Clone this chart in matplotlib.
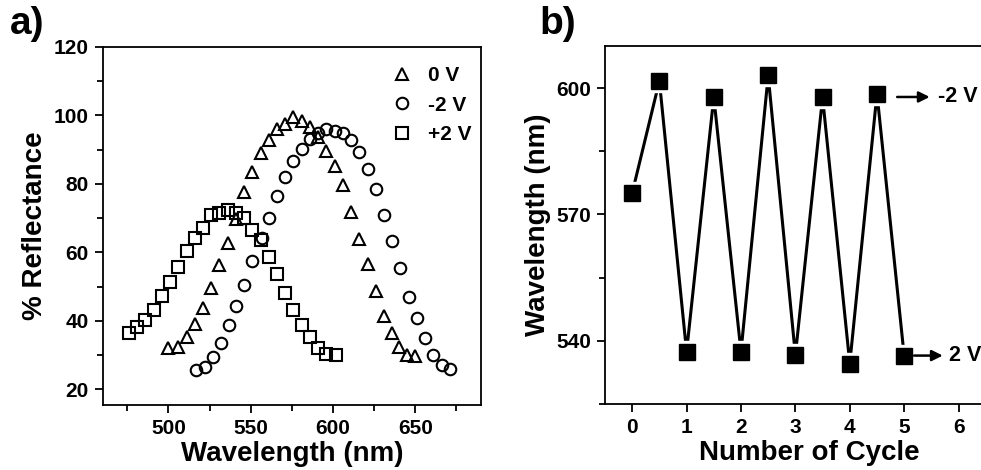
import numpy as np
import matplotlib
matplotlib.use("Agg")
import matplotlib.pyplot as plt
from matplotlib.ticker import MultipleLocator, FixedLocator

plt.rcParams['font.family'] = ['Liberation Sans', 'DejaVu Sans']
plt.rcParams['font.weight'] = 'bold'

# panel a: reflectance spectra
wl_0v = [500, 506, 511, 516, 521, 526, 531, 536, 541, 546, 551, 556, 561, 566, 571, 576,
         581, 586, 591, 596, 601, 606, 611, 616, 621, 626, 631, 636, 640, 645, 650]
r_0v = [32.1, 32.4, 35.3, 39.0, 43.6, 49.6, 56.2, 62.6, 69.6, 77.6, 83.4, 88.9, 92.7, 95.9,
        97.6, 99.5, 98.5, 96.5, 93.6, 89.7, 85.2, 79.6, 71.8, 64.0, 56.5, 48.7, 41.4, 36.3,
        32.4, 30.0, 29.7]

wl_m2v = [517, 522, 527, 532, 537, 541, 546, 551, 557, 561, 566, 571, 576, 581, 586, 591,
          596, 601, 606, 611, 616, 621, 626, 631, 636, 641, 646, 651, 656, 661, 666, 671]
r_m2v = [25.6, 26.6, 29.5, 33.4, 38.7, 44.4, 50.6, 57.4, 64.3, 70.1, 76.4, 82.0, 86.7, 90.3,
         93.0, 94.8, 96.0, 95.6, 95.0, 92.7, 89.3, 84.5, 78.6, 71.0, 63.3, 55.3, 47.0, 40.7,
         34.9, 30.0, 27.1, 25.8]

wl_p2v = [476, 481, 486, 491, 496, 501, 506, 511, 516, 521, 526, 531, 536, 541, 546, 551,
          556, 561, 566, 571, 576, 581, 586, 591, 596, 602]
r_p2v = [36.5, 38.3, 40.2, 43.1, 47.2, 51.4, 55.7, 60.3, 64.2, 67.1, 70.8, 71.5, 72.5, 71.5,
         69.9, 66.4, 63.5, 58.7, 53.6, 48.2, 43.1, 38.7, 35.2, 32.0, 30.3, 30.0]

# panel b: peak wavelength vs cycle
cycle = [0, 0.5, 1, 1.5, 2, 2.5, 3, 3.5, 4, 4.5, 5]
peak_wl = [575.1, 601.7, 537.4, 597.9, 537.4, 603.0, 536.6, 597.8, 534.6, 598.7, 536.4]
cycle_ticks = [0, 1, 2, 3, 4, 5, 6]

fig = plt.figure(figsize=(9.81, 4.70), dpi=100)
ax1 = fig.add_axes([0.1047, 0.1383, 0.3856, 0.7617])
ax2 = fig.add_axes([0.6167, 0.1404, 0.4159, 0.7617])

mk = dict(linestyle='none', markersize=8.3, markerfacecolor='none',
          markeredgecolor='black', markeredgewidth=1.5)
ax1.plot(wl_0v, r_0v, marker='^', label='0 V', **mk)
ax1.plot(wl_m2v, r_m2v, marker='o', label='-2 V', **mk)
ax1.plot(wl_p2v, r_p2v, marker='s', label='+2 V', **mk)

ax1.set_xlim(460, 690)
ax1.set_ylim(15.4, 120)
ax1.xaxis.set_major_locator(MultipleLocator(50))
ax1.xaxis.set_minor_locator(MultipleLocator(25))
ax1.yaxis.set_major_locator(MultipleLocator(20))
ax1.yaxis.set_minor_locator(MultipleLocator(10))
ax1.set_xlabel('Wavelength (nm)', fontsize=20, fontweight='bold', labelpad=2)
ax1.set_ylabel('% Reflectance', fontsize=20, fontweight='bold', labelpad=4)
ax1.legend(loc='upper left', bbox_to_anchor=(0.735, 0.975), frameon=False, borderpad=0,
           handlelength=1.0, handletextpad=0.75, labelspacing=0.5,
           prop={'size': 15, 'weight': 'bold'})

# line with gaps around symbols, then the filled squares
ax2.plot(cycle, peak_wl, color='black', linewidth=2.2, zorder=1)
ax2.plot(cycle, peak_wl, linestyle='none', marker='s', markersize=15.5,
         markerfacecolor='white', markeredgecolor='white', zorder=2)
ax2.plot(cycle, peak_wl, linestyle='none', marker='s', markersize=11.5,
         markerfacecolor='black', markeredgecolor='black', zorder=3)

ax2.set_xlim(-0.5, 7)
ax2.set_ylim(525, 610)
ax2.xaxis.set_major_locator(FixedLocator(cycle_ticks))
ax2.yaxis.set_major_locator(MultipleLocator(30))
ax2.yaxis.set_minor_locator(MultipleLocator(15))
ax2.set_xlabel('Number of Cycle', fontsize=20, fontweight='bold', labelpad=2)
ax2.set_ylabel('Wavelength (nm)', fontsize=20, fontweight='bold', labelpad=4)

ax2.annotate('', xy=(5.52, 597.9), xytext=(4.82, 597.9),
             arrowprops=dict(arrowstyle='-|>', color='black', lw=1.8, mutation_scale=16))
ax2.text(5.63, 597.9, '-2 V', fontsize=15.5, fontweight='bold', va='center', ha='left')
ax2.annotate('', xy=(5.76, 536.5), xytext=(5.13, 536.5),
             arrowprops=dict(arrowstyle='-|>', color='black', lw=1.8, mutation_scale=16))
ax2.text(5.83, 536.5, '2 V', fontsize=15.5, fontweight='bold', va='center', ha='left')

for ax in (ax1, ax2):
    for s in ax.spines.values():
        s.set_linewidth(1.3)
    ax.tick_params(which='major', direction='out', length=6, width=1.3, labelsize=15, pad=4)
    ax.tick_params(which='minor', direction='out', length=4, width=1.3)
    for lab in ax.get_xticklabels() + ax.get_yticklabels():
        lab.set_fontweight('bold')

fig.text(0.010, 0.91, 'a)', fontsize=28, fontweight='bold', ha='left', va='bottom')
fig.text(0.550, 0.91, 'b)', fontsize=28, fontweight='bold', ha='left', va='bottom')

fig.savefig('out.png', dpi=100)
